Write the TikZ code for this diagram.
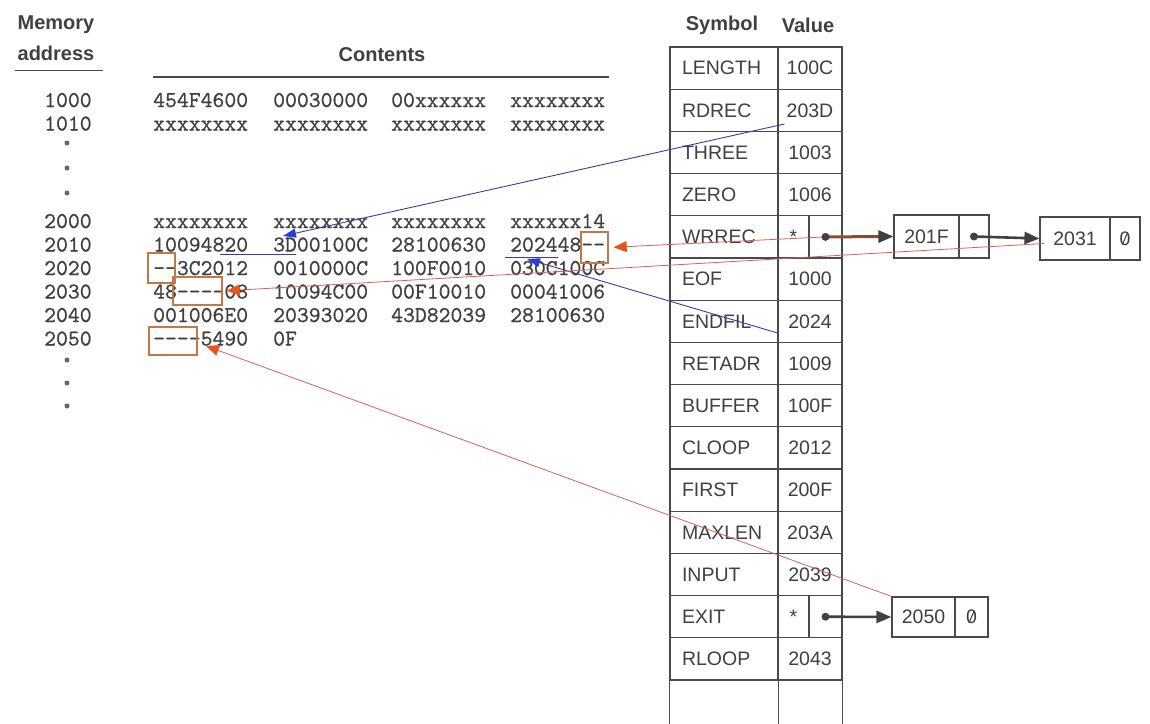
\documentclass[tikz,border=0pt]{standalone}
\usepackage{fontspec}
\setsansfont{Liberation Sans}
\newfontfamily\cour{lmmono10-regular.otf}[FakeBold=0.6]
\usetikzlibrary{arrows.meta,calc}
\definecolor{ink}{HTML}{404040}
\definecolor{monoc}{HTML}{404040}
\definecolor{tab}{HTML}{4A4A4A}
\definecolor{bl}{HTML}{3C3CA0}
\definecolor{blh}{HTML}{2C3CD8}
\definecolor{org}{HTML}{E6561C}
\definecolor{obox}{HTML}{C27848}
\definecolor{rl}{HTML}{D8625A}
\definecolor{brn}{HTML}{8C4A3A}
\newcommand\hy{\char"2014\relax}
\begin{document}
\begin{tikzpicture}[x=1pt,y=-1pt,
  hdr/.style={font=\sffamily\bfseries\fontsize{20}{24}\selectfont,text=ink,inner sep=0},
  mono/.style={font=\cour\fontsize{22.6}{24}\selectfont,text=monoc,anchor=base west,inner sep=0},
  cell/.style={draw=tab,line width=1.2pt,minimum height=42.2pt,inner sep=0,font=\sffamily\fontsize{19.5}{22}\selectfont,text=ink},
  symc/.style={cell,minimum width=108pt,text width=84pt,align=left},
  valc/.style={cell,minimum width=64pt},
  ptr/.style={draw=tab,line width=1.2pt,inner sep=0,font=\sffamily\fontsize{19.5}{22}\selectfont,text=ink},
  obx/.style={draw=obox,line width=1.3pt,inner sep=0},
  bline/.style={draw=bl,line width=0.9pt,-{Triangle[length=13pt,width=9pt,color=blh]}},
  rline/.style={draw=rl,line width=0.8pt,-{Triangle[length=13pt,width=11pt,color=org]}},
  uline/.style={draw=bl,line width=1pt},
  slash/.style={draw=ink,line width=1pt},
  dotc/.style={fill=ink!80,draw=none,circle,inner sep=0,minimum size=5pt},
  pdot/.style={fill=ink,draw=none,circle,inner sep=0,minimum size=8pt}
]
\useasboundingbox[fill=white] (0,0) rectangle (1150,723);

% headers
\node[hdr] (hmem) at (56,25) {Memory};
\node[hdr] (hadr) at (56,53) {address};
\draw[tab,line width=1.2pt] (hadr.south west) ++(-2,10) -- ++(88,0);
\node[hdr] (hcon) at (382,55) {Contents};
\draw[tab,line width=1.2pt] (153,77) -- (609,77);
\node[hdr] (hsym) at (722,25) {Symbol};
\node[hdr] (hval) at (808,25) {Value};

% memory rows
\foreach \y/\a/\c/\d/\e/\f in {
  100/1000/454F4600/00030000/00xxxxxx/xxxxxxxx,
  123.5/1010/xxxxxxxx/xxxxxxxx/xxxxxxxx/xxxxxxxx,
  221/2000/xxxxxxxx/xxxxxxxx/xxxxxxxx/xxxxxx14,
  244.5/2010/10094820/3D00100C/28100630/202448\hy\hy,
  268/2020/\hy\hy3C2012/0010000C/100F0010/030C100C,
  291.5/2030/48\hy\hy\hy\hy08/10094C00/00F10010/00041006,
  315/2040/001006E0/20393020/43D82039/28100630}{
  \node[mono] (a\a) at (44,\y+7) {\a};
  \node[mono] (c\a) at (153,\y+7) {\c};
  \node[mono] (d\a) at (273,\y+7) {\d};
  \node[mono] (e\a) at (391,\y+7) {\e};
  \node[mono] (f\a) at (510,\y+7) {\f};
}
\node[mono] (a2050) at (44,345.5) {2050};
\node[mono] (c2050) at (153,345.5) {\hy\hy\hy\hy5490};
\node[mono] (d2050) at (273,345.5) {0F};

% dots
\foreach \y [count=\i] in {143,168,193,360,383,406}
  \node[dotc] (dot\i) at (67,\y) {};

% symbol table
\foreach \s [count=\i from 0] in {LENGTH,RDREC,THREE,ZERO,WRREC,EOF,ENDFIL,RETADR,BUFFER,CLOOP,FIRST,MAXLEN,INPUT,EXIT,RLOOP}{
  \node[symc] (sym\i) at (724,{47+42.2*(\i+0.5)}) {\s};
}
\foreach \v [count=\i from 0] in {100C,203D,1003,1006,,1000,2024,1009,100F,2012,200F,203A,2039,,2043}{
  \ifx\v\empty\else
  \node[valc] (val\i) at (810,{47+42.2*(\i+0.5)}) {\v};
  \fi
}
% split cells
\node[ptr,minimum width=31pt,minimum height=42.2pt] (wst) at (793.5,236.9) {*};
\node[ptr,minimum width=33pt,minimum height=42.2pt] (wpt) at (825.5,236.9) {};
\node[ptr,minimum width=31pt,minimum height=42.2pt] (est) at (793.5,616.7) {*};
\node[ptr,minimum width=33pt,minimum height=42.2pt] (ept) at (825.5,616.7) {};
% open last row
\draw[tab,line width=1.2pt] (sym14.south west) -- ++(0,45);
\draw[tab,line width=1.2pt] (sym14.south east) -- ++(0,45);
\draw[tab,line width=1.2pt] (val14.south east) -- ++(0,45);

% linked list boxes
\node[ptr,minimum width=65pt,minimum height=43pt] (n201F) at (926.5,236.5) {201F};
\node[ptr,minimum width=30pt,minimum height=43pt] (n201Fp) at (974,236.5) {};
\node[ptr,minimum width=70pt,minimum height=43pt] (n2031) at (1075,238.5) {2031};
\node[ptr,minimum width=30pt,minimum height=43pt] (n2031z) at (1125,238.5) {0};
\node[ptr,minimum width=63pt,minimum height=40pt] (n2050) at (923.5,617) {2050};
\node[ptr,minimum width=33pt,minimum height=40pt] (n2050z) at (971.5,617) {0};
\draw[slash] ($(n2031z.center)+(-2.6,6)$) -- ($(n2031z.center)+(2.6,-6)$);
\draw[slash] ($(n2050z.center)+(-2.6,6)$) -- ($(n2050z.center)+(2.6,-6)$);

% orange boxes
\node[obx,minimum width=27pt,minimum height=31pt] (ob1) at (594.5,247.5) {};
\node[obx,minimum width=27pt,minimum height=30pt] (ob2) at (161.5,268) {};
\node[obx,minimum width=49pt,minimum height=28pt] (ob3) at (197.5,291) {};
\node[obx,minimum width=48pt,minimum height=28pt] (ob4) at (173,341) {};

% underlines
\draw[uline] (220,254) -- (296,254);
\draw[uline] (505,257) -- (558,257);

% blue arrows
\coordinate (t203D) at (283,236);
\coordinate (t2024) at (527,259);
\draw[bline] ($(val1.south west)+(7,-8)$) -- (t203D);
\draw[bline] ($(sym6.south east)+(-1,-10)$) -- (t2024);

% red/orange arrows
\draw[rline,shorten >=5pt] (wpt.center) -- (ob1.east);
\draw[rline,shorten >=4pt] ($(n2031.west)+(5,5)$) -- (ob3.east);
\coordinate (t2050) at (206,346);
\draw[rline] (n2050.north west) -- (t2050);

% pointer arrows
\draw[brn,line width=3pt,-{Triangle[length=15pt,width=12pt,color=ink]}] (wpt.center) -- (n201F.west);
\draw[ink,line width=2.6pt,-{Triangle[length=15pt,width=12pt]}] (n201Fp.center) -- (n2031.west);
\draw[ink,line width=2.6pt,-{Triangle[length=15pt,width=12pt]}] (ept.center) -- (n2050.west);
\node[pdot] (wd) at (wpt.center) {};
\node[pdot] (fd) at (n201Fp.center) {};
\node[pdot] (ed) at (ept.center) {};
\end{tikzpicture}
\end{document}
